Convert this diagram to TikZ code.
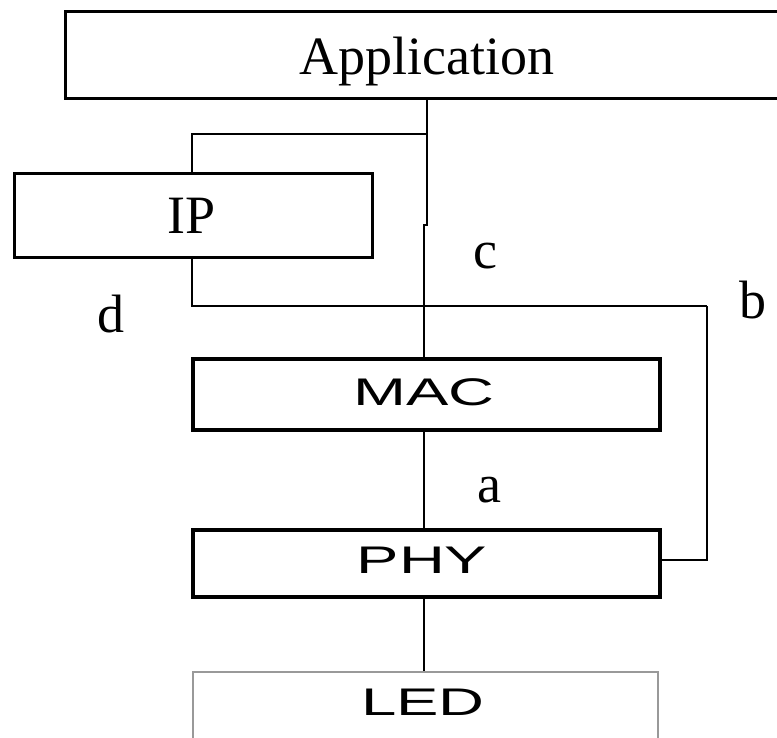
\documentclass[tikz,border=0pt]{standalone}
\usepackage{fontspec}
\setmainfont{Liberation Serif}
\newfontfamily\labsans{Liberation Sans}
\begin{document}
\begin{tikzpicture}[x=1pt,y=-1pt,
  box/.style={draw=black,line width=3pt,inner sep=0pt,anchor=north west},
  graybox/.style={draw=black!40,line width=2pt,inner sep=0pt,anchor=north west},
  serif/.style={font=\fontsize{54}{60}\selectfont,inner sep=0pt,anchor=base},
  sans/.style={font=\labsans\fontsize{38.5}{44}\selectfont,inner sep=0pt,anchor=base},
  wire/.style={draw=black,line width=2.5pt},
  thinwire/.style={draw=black,line width=2pt}]
\useasboundingbox (0,0) rectangle (777,737);
\begin{scope}
\clip (0,0) rectangle (777,737);
% boxes
\node[box,minimum width=740,minimum height=87] (app) at (64,10) {};
\node[box,minimum width=358,minimum height=84] (ip) at (13,172) {};
\node[box,line width=3.5pt,minimum width=467,minimum height=71] (mac) at (191,357) {};
\node[box,line width=3.5pt,minimum width=467,minimum height=67] (phy) at (191,528) {};
\node[graybox,minimum width=465,minimum height=90] (led) at (192,671) {};
% texts
\node[serif] (tapp) at (427,74) {Application};
\node[serif] (tip) at (192,233) {IP};
\node[sans] (tmac) at (424,405) {\scalebox{1.65}[1]{MAC}};
\node[sans] (tphy) at (422,573) {\scalebox{1.65}[1]{PHY}};
\node[sans] (tled) at (423,715) {\scalebox{1.65}[1]{LED}};
\node[serif] (lc) at (485,268) {c};
\node[serif] (ld) at (111,332) {d};
\node[serif] (lb) at (753,318) {b};
\node[serif] (la) at (489,502) {a};
% connectors
\coordinate (j1) at (427,225);
\coordinate (j2) at (424,225);
\coordinate (t1) at (427,134);
\coordinate (t2) at (192,134);
\coordinate (r1) at (192,306);
\coordinate (r2) at (707,306);
\coordinate (r3) at (707,560);
\draw[wire] (app.south -| t1) -- (j1) -- (j2) -- (mac.north -| j2);
\draw[wire] (t1) -- (t2) -- (ip.north -| t2);
\draw[wire] (ip.south -| r1) -- (r1) -- (r2);
\draw[thinwire] (r2) -- (r3) -- (phy.east |- r3);
\draw[thinwire] (mac.south -| j2) -- (phy.north -| j2);
\draw[thinwire] (phy.south -| j2) -- (led.north -| j2);
\end{scope}
\end{tikzpicture}
\end{document}
